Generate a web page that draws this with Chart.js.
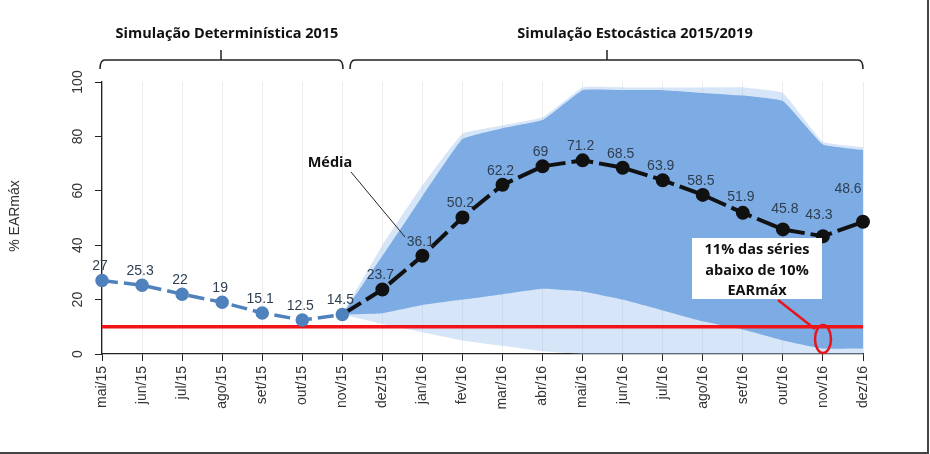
<!DOCTYPE html>
<html><head><meta charset="utf-8">
<script src="https://cdn.jsdelivr.net/npm/chart.js@4.4.0/dist/chart.umd.min.js"></script>
<style>html,body{margin:0;padding:0;background:#fff;}canvas{display:block}</style>
</head><body>
<canvas id="c" width="930" height="454"></canvas>
<script>
const meses = ['mai/15','jun/15','jul/15','ago/15','set/15','out/15','nov/15','dez/15','jan/16','fev/16','mar/16','abr/16','mai/16','jun/16','jul/16','ago/16','set/16','out/16','nov/16','dez/16'];
const mediaDeterministica = [27,25.3,22,19,15.1,12.5,14.5,null,null,null,null,null,null,null,null,null,null,null,null,null];
const mediaEstocastica = [null,null,null,null,null,null,14.5,23.7,36.1,50.2,62.2,69,71.2,68.5,63.9,58.5,51.9,45.8,43.3,48.6];
const envMax = [null,null,null,null,null,null,14.5,40,62,81,84,87,98,98,98,98,98,96,78,76];
const envMin = [null,null,null,null,null,null,14.5,11,8,5,3,1,0,0,0,0,0,0,0,0];
const faixaSup = [null,null,null,null,null,null,14.5,36,58,79,83,86,97,97,97,96,95,93,77,75];
const faixaInf = [null,null,null,null,null,null,14.5,15,18,20,22,24,23,20,16,12,9,5,2,2];
const limite10 = [10,10,10,10,10,10,10,10,10,10,10,10,10,10,10,10,10,10,10,10];
const yTicks = [0,20,40,60,80,100];

const FONT = '"Liberation Sans", Arial, sans-serif';
const BOLD = '"Open Sans", "Liberation Sans", sans-serif';

const drawPlugin = {
  id: 'extras',
  afterDatasetsDraw(chart) {
    const ctx = chart.ctx;
    const y = chart.scales.y;
    ctx.save();
    ctx.fillStyle = '#333';
    ctx.font = '14px ' + FONT;
    ctx.textAlign = 'center';
    ctx.textBaseline = 'middle';
    yTicks.forEach(v => {
      ctx.save();
      ctx.translate(78, y.getPixelForValue(v));
      ctx.rotate(-Math.PI / 2);
      ctx.fillText(String(v), 0, 0);
      ctx.restore();
    });
    ctx.save();
    ctx.translate(15, 216);
    ctx.rotate(-Math.PI / 2);
    ctx.fillText('% EARmáx', 0, 0);
    ctx.restore();
    ctx.restore();

    ctx.save();
    ctx.fillStyle = '#2e3f52';
    ctx.font = '14px ' + FONT;
    ctx.textAlign = 'center';
    ctx.textBaseline = 'middle';
    const metaDet = chart.getDatasetMeta(6);
    const metaEst = chart.getDatasetMeta(5);
    const offs = {16:[-2,-16],17:[2,-20],18:[-4,-21],19:[-15,-33]};
    for (let i = 0; i < meses.length; i++) {
      let v, pt;
      if (mediaDeterministica[i] !== null) { v = mediaDeterministica[i]; pt = metaDet.data[i]; }
      else if (mediaEstocastica[i] !== null) { v = mediaEstocastica[i]; pt = metaEst.data[i]; }
      else continue;
      const o = offs[i] || [-2, -14];
      ctx.fillText(String(v), pt.x + o[0], pt.y + o[1]);
    }
    ctx.restore();
  },
  afterDraw(chart) {
    const ctx = chart.ctx;
    ctx.save();
    ctx.strokeStyle = '#222';
    ctx.lineWidth = 1.5;
    const bracket = (x1, x2, xc) => {
      ctx.beginPath();
      ctx.moveTo(x1, 69);
      ctx.quadraticCurveTo(x1, 60, x1 + 5, 60);
      ctx.lineTo(x2 - 5, 60);
      ctx.quadraticCurveTo(x2, 60, x2, 69);
      ctx.moveTo(xc, 60);
      ctx.lineTo(xc, 50);
      ctx.stroke();
    };
    bracket(100, 343, 221);
    bracket(350, 863, 607);
    ctx.fillStyle = '#111';
    ctx.font = 'bold 14.5px ' + BOLD;
    ctx.textAlign = 'center';
    ctx.textBaseline = 'middle';
    ctx.fillText('Simulação Determinística 2015', 227, 34);
    ctx.fillText('Simulação Estocástica 2015/2019', 635, 34);

    ctx.fillText('Média', 330, 163);
    ctx.lineWidth = 1;
    ctx.beginPath();
    ctx.moveTo(351, 172);
    ctx.lineTo(405, 237);
    ctx.stroke();

    ctx.fillStyle = '#fff';
    ctx.fillRect(692, 238, 130, 61);
    ctx.fillStyle = '#111';
    ctx.font = 'bold 14.5px ' + BOLD;
    ctx.fillText('11% das séries', 757, 250);
    ctx.fillText('abaixo de 10%', 757, 271);
    ctx.fillText('EARmáx', 757, 291);
    ctx.strokeStyle = '#e8141b';
    ctx.lineWidth = 2.5;
    ctx.beginPath();
    ctx.moveTo(778, 300);
    ctx.lineTo(815, 329);
    ctx.stroke();
    ctx.beginPath();
    ctx.ellipse(823, 339, 8, 14, 0, 0, Math.PI * 2);
    ctx.stroke();

    ctx.strokeStyle = '#444';
    ctx.lineWidth = 2;
    ctx.beginPath();
    ctx.moveTo(0, 453);
    ctx.lineTo(928, 453);
    ctx.lineTo(928, 0);
    ctx.stroke();
    ctx.restore();
  }
};

new Chart(document.getElementById('c'), {
  type: 'line',
  data: {
    labels: meses,
    datasets: [
      { data: envMax, fill: 1, backgroundColor: 'rgba(165,198,238,0.45)', borderWidth: 0, pointRadius: 0, order: 6, tension: 0.1 },
      { data: envMin, fill: false, borderWidth: 0, pointRadius: 0, order: 5, tension: 0.1 },
      { data: faixaSup, fill: 3, backgroundColor: 'rgba(100,155,222,0.78)', borderWidth: 0, pointRadius: 0, order: 4, tension: 0.1 },
      { data: faixaInf, fill: false, borderWidth: 0, pointRadius: 0, order: 3, tension: 0.1 },
      { data: limite10, borderColor: '#f01418', borderWidth: 3.5, pointRadius: 0, fill: false, order: 2 },
      { data: mediaEstocastica, borderColor: '#111', borderWidth: 4, borderDash: [22, 6], pointRadius: ctx => ctx.dataIndex === 6 ? 0 : 5, pointBackgroundColor: '#111', pointBorderColor: '#111', fill: false, order: 1 },
      { data: mediaDeterministica, borderColor: '#4f81bd', borderWidth: 3.5, borderDash: [16, 6], pointRadius: 5, pointBackgroundColor: '#4f81bd', pointBorderColor: '#4f81bd', fill: false, order: 0 }
    ]
  },
  options: {
    responsive: false,
    devicePixelRatio: 1,
    animation: false,
    layout: { padding: { top: 82, right: 67, left: 0, bottom: 0 } },
    plugins: { legend: { display: false }, tooltip: { enabled: false } },
    scales: {
      x: {
        offset: false,
        afterFit: s => { s.height = 100; },
        grid: { color: '#ececec', tickColor: '#222', tickLength: 7, lineWidth: 1 },
        border: { display: true, color: '#222', width: 1.3 },
        ticks: { autoSkip: false, minRotation: 90, maxRotation: 90, color: '#333', font: { family: FONT, size: 14 }, padding: 5 }
      },
      y: {
        min: 0, max: 100,
        afterFit: s => { s.width = 102; },
        grid: { drawOnChartArea: false, tickColor: '#222', tickLength: 7 },
        border: { display: true, color: '#222', width: 1.3 },
        ticks: { stepSize: 20, display: false }
      }
    }
  },
  plugins: [drawPlugin]
});
</script>
</body></html>
